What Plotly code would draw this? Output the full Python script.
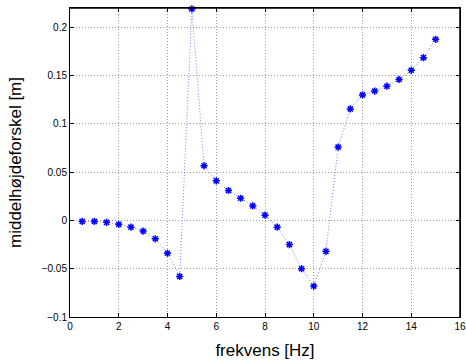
import plotly.graph_objects as go

freq = [0.5, 1.0, 1.5, 2.0, 2.5, 3.0, 3.5, 4.0, 4.5, 5.0, 5.5, 6.0, 6.5, 7.0, 7.5,
        8.0, 8.5, 9.0, 9.5, 10.0, 10.5, 11.0, 11.5, 12.0, 12.5, 13.0, 13.5, 14.0, 14.5, 15.0]
diff = [-0.001, -0.001, -0.002, -0.004, -0.007, -0.011, -0.019, -0.034, -0.058, 0.219,
        0.0566, 0.041, 0.031, 0.023, 0.015, 0.0055, -0.007, -0.025, -0.050, -0.068,
        -0.032, 0.076, 0.1155, 0.130, 0.134, 0.139, 0.146, 0.1555, 0.1686, 0.1876]

x_ticks = [0, 2, 4, 6, 8, 10, 12, 14, 16]
y_ticks = [-0.1, -0.05, 0, 0.05, 0.1, 0.15, 0.2]
y_labels = ["\u22120.1", "\u22120.05", "0", "0.05", "0.1", "0.15", "0.2"]

FONT = "Liberation Sans, Arial, sans-serif"

fig = go.Figure()
fig.add_trace(go.Scatter(
    x=freq, y=diff, mode="lines+markers",
    line=dict(color="rgba(90,90,255,0.8)", width=1, dash="1px,2px"),
    marker=dict(symbol="asterisk-open", size=6, color="#0000ff",
                line=dict(color="#0000ff", width=1.5)),
    cliponaxis=False,
))

axis_common = dict(
    showline=True, linecolor="black", linewidth=1, mirror="allticks",
    ticks="inside", ticklen=4, tickcolor="black", tickwidth=1,
    showgrid=True, gridcolor="#9a9a9a", griddash="1px,2px", gridwidth=1,
    zeroline=False, automargin=False, ticklabeloverflow="allow",
    tickfont=dict(family=FONT, size=10, color="black"),
)

fig.update_xaxes(range=[0, 16], tickvals=x_ticks, ticktext=[str(t) for t in x_ticks],
                 title=dict(text="frekvens [Hz]", standoff=13,
                            font=dict(family=FONT, size=17, color="black")),
                 **axis_common)
fig.update_yaxes(range=[-0.1, 0.22], tickvals=y_ticks, ticktext=y_labels,
                 title=dict(text="middelhøjdeforskel [m]", standoff=15,
                            font=dict(family=FONT, size=17, color="black")),
                 **axis_common)

# frame around the plot area (paper coordinates, not clipped)
fig.add_shape(type="line", xref="paper", yref="paper", x0=0, x1=1, y0=1, y1=1,
              line=dict(color="black", width=1.5), layer="above")
fig.add_shape(type="line", xref="paper", yref="paper", x0=1, x1=1, y0=0, y1=1,
              line=dict(color="black", width=1.5), layer="above")

fig.update_layout(
    width=466, height=363,
    margin=dict(l=70, r=6, t=8, b=46, autoexpand=False),
    plot_bgcolor="white", paper_bgcolor="white",
    showlegend=False,
)

fig.write_html(
    "out.html",
    config={"displayModeBar": False},
    post_script="document.body.style.margin='0';document.body.style.padding='0';"
                "document.body.style.overflow='hidden';",
)
